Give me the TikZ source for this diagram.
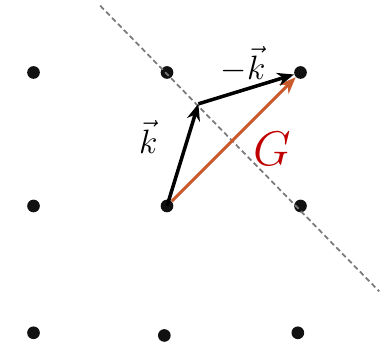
\documentclass[tikz,border=0pt]{standalone}
\usepackage{tikz}
\usetikzlibrary{arrows.meta,positioning}
\definecolor{latDot}{HTML}{111111}
\definecolor{latPlane}{HTML}{7A7A7A}
\definecolor{latG}{HTML}{C85A2E}
\definecolor{latGtext}{HTML}{C00000}
\tikzset{
  site/.style={circle, fill=latDot, inner sep=0pt, minimum size=1.9mm},
  wavevec/.style={-{Stealth[length=2.5mm, width=2mm]}, line width=1.5pt, black},
  recvec/.style={-{Stealth[length=2.5mm, width=2mm]}, line width=1.3pt, latG},
  bragg/.style={dash pattern=on 2.2pt off 1.4pt, line width=0.75pt, latPlane},
  veclabel/.style={font=\fontsize{15}{18}\selectfont, inner sep=1pt},
  glabel/.style={font=\fontsize{21}{24}\selectfont, text=latGtext, inner sep=1pt}
}
\begin{document}
\begin{tikzpicture}[x=2cm, y=2cm]
  \useasboundingbox (-1.251,-1.041) rectangle (1.603,1.543);
  % lattice sites
  \node[site] (s11) at (-1.0, 1.0) {};
  \node[site] (s12) at ( 0.0, 1.0) {};
  \node[site] (s13) at ( 1.0, 1.0) {};
  \node[site] (s21) at (-1.0, 0.0) {};
  \node[site] (s22) at ( 0.0, 0.0) {};
  \node[site] (s23) at ( 1.0, 0.0) {};
  \node[site] (s31) at (-1.0,-0.95) {};
  \node[site] (s32) at (-0.02,-0.97) {};
  \node[site] (s33) at ( 0.98,-0.95) {};
  % Bragg plane
  \coordinate (pa) at (-0.50, 1.50);
  \coordinate (pb) at ( 1.59,-0.64);
  \draw[bragg] (pa) -- (pb);
  % vectors
  \coordinate (kink) at (0.235, 0.765);
  \draw[recvec] (s22) -- (s13);
  \draw[wavevec] (s22.center) -- (kink);
  \draw[wavevec] (kink) -- (s13);
  \node[veclabel] (klab) at (-0.14, 0.52) {$\vec{k}$};
  \node[veclabel] (mklab) at (0.57, 1.06) {$-\vec{k}$};
  \node[glabel] (glab) at (0.79, 0.43) {$G$};
\end{tikzpicture}
\end{document}
